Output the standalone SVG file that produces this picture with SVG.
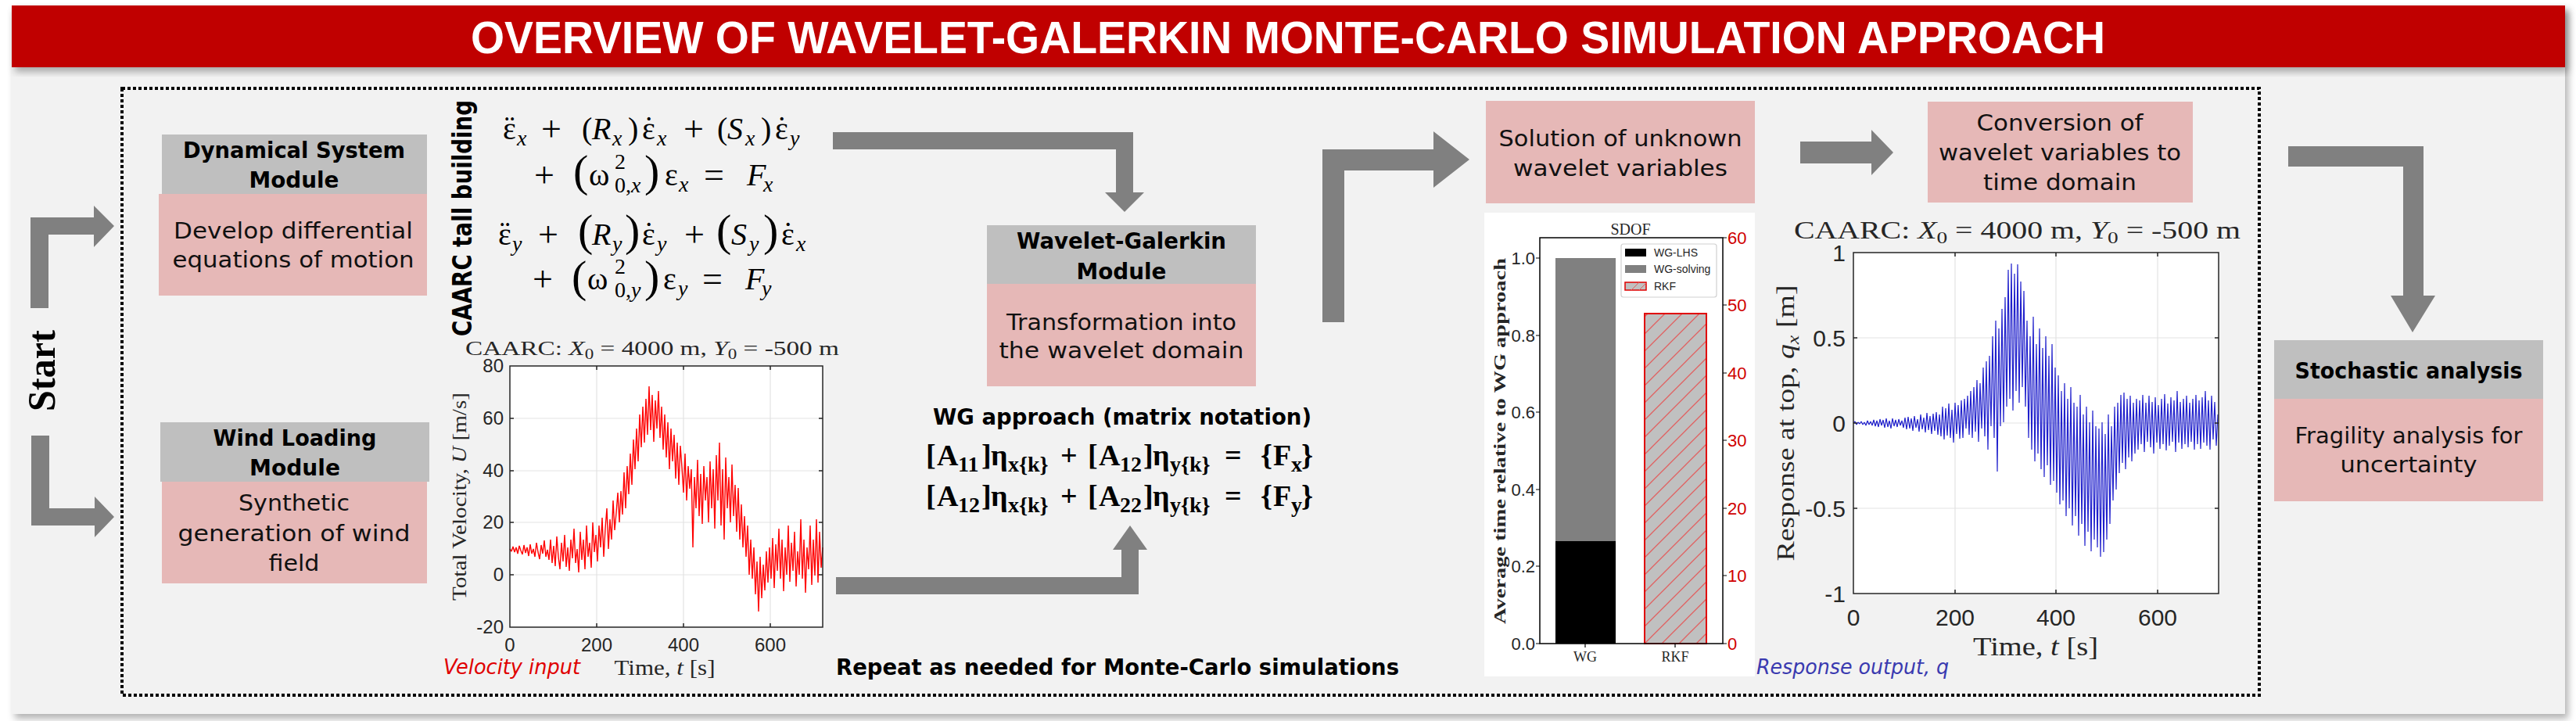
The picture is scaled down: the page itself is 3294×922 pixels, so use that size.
<svg xmlns="http://www.w3.org/2000/svg" width="3294" height="922" viewBox="0 0 3294 922">
<defs>
<filter id="sh" x="-5%" y="-5%" width="110%" height="120%"><feDropShadow dx="4" dy="6" stdDeviation="5" flood-color="#000" flood-opacity="0.3"/></filter>
<pattern id="hatch" patternUnits="userSpaceOnUse" width="22" height="22"><path d="M-6,6 L6,-6 M0,22 L22,0 M16,28 L28,16" stroke="#e06060" stroke-width="1.3"/></pattern>
<style>
.arrow{fill:#808080}
.hdr{fill:#bfbfbf}
.bdy{fill:#e6b8b7}
.ht{font-family:"DejaVu Sans","Liberation Sans",sans-serif;font-weight:bold;font-size:29px;text-anchor:middle;fill:#000}
.bt{font-family:"DejaVu Sans","Liberation Sans",sans-serif;font-size:28px;text-anchor:middle;fill:#111}
.eq{font-family:"Liberation Serif","DejaVu Serif",serif;font-size:40px;fill:#000}
.sb{font-size:28px}
.i{font-style:italic}
.big{font-size:58px}
.op{font-size:46px}
.mx{font-family:"Liberation Serif","DejaVu Serif",serif;font-weight:bold;font-size:38px;fill:#000}
.ms{font-size:28px}
.tk{font-family:"Liberation Sans",Arial,sans-serif;fill:#262626}
.ser{font-family:"Liberation Serif","DejaVu Serif",serif;fill:#262626}
.grid{stroke:#e3e3e3;stroke-width:1.2;fill:none}
.ax{stroke:#262626;stroke-width:1.5;fill:none}
</style>
</defs>

<rect x="0" y="0" width="3294" height="922" fill="#ffffff"/>
<g id="panel">
<rect x="15" y="7" width="3265" height="906" fill="#f2f2f2" filter="url(#sh)"/>
</g>
<g id="title">
<rect x="15" y="7" width="3265" height="79" fill="#c00000" filter="url(#sh)"/>
<text x="1647" y="68" font-family="'Liberation Sans',Arial,sans-serif" font-weight="bold" font-size="57" fill="#ffffff" text-anchor="middle" textLength="2090" lengthAdjust="spacingAndGlyphs">OVERVIEW OF WAVELET-GALERKIN MONTE-CARLO SIMULATION APPROACH</text>
</g>

<g id="loop-border">
<rect x="156" y="113" width="2733" height="776" fill="none" stroke="#000" stroke-width="4" stroke-dasharray="4 3"/>
<text x="1429" y="863" font-family="'DejaVu Sans','Liberation Sans',sans-serif" font-weight="bold" font-size="28" text-anchor="middle" textLength="720" lengthAdjust="spacingAndGlyphs">Repeat as needed for Monte-Carlo simulations</text>
</g>

<g id="start">
<text transform="translate(70,474) rotate(-90)" font-family="'Liberation Serif',serif" font-weight="bold" font-size="50" text-anchor="middle" textLength="104" lengthAdjust="spacingAndGlyphs">Start</text>
</g>

<g id="connectors">
<polygon class="arrow" points="39,394 39,278 120,278 120,263 146,289 120,316 120,300 62,300 62,394"/>
<polygon class="arrow" points="40,557 63,557 63,650 121,650 121,635 146,661 121,687 121,672 40,672"/>
<polygon class="arrow" points="1065,169 1449,169 1449,246 1463,246 1438,271 1413,246 1427,246 1427,191 1065,191"/>
<polygon class="arrow" points="1069,738 1434,738 1434,703 1423,703 1445,672 1467,703 1456,703 1456,760 1069,760"/>
<polygon class="arrow" points="1691,412 1691,191 1833,191 1833,168 1879,204 1833,240 1833,218 1719,218 1719,412"/>
<polygon class="arrow" points="2302,181 2393,181 2393,166 2421,195 2393,224 2393,209 2302,209"/>
<polygon class="arrow" points="2926,187 3099,187 3099,378 3114,378 3085,425 3057,378 3073,378 3073,213 2926,213"/>
</g>

<g id="dynamical-system">
<rect class="hdr" x="207" y="172" width="339" height="76"/>
<rect class="bdy" x="203" y="248" width="343" height="130"/>
<text class="ht" x="376" y="202" textLength="284" lengthAdjust="spacingAndGlyphs">Dynamical System</text>
<text class="ht" x="376" y="240" textLength="115" lengthAdjust="spacingAndGlyphs">Module</text>
<text class="bt" x="375" y="305" textLength="306" lengthAdjust="spacingAndGlyphs">Develop differential</text>
<text class="bt" x="375" y="342" textLength="309" lengthAdjust="spacingAndGlyphs">equations of motion</text>
</g>

<g id="wind-loading">
<rect class="hdr" x="205" y="540" width="344" height="76"/>
<rect class="bdy" x="207" y="616" width="339" height="130"/>
<text class="ht" x="377" y="570" textLength="209" lengthAdjust="spacingAndGlyphs">Wind Loading</text>
<text class="ht" x="377" y="608" textLength="116" lengthAdjust="spacingAndGlyphs">Module</text>
<text class="bt" x="376" y="653" textLength="142" lengthAdjust="spacingAndGlyphs">Synthetic</text>
<text class="bt" x="376" y="692" textLength="297" lengthAdjust="spacingAndGlyphs">generation of wind</text>
<text class="bt" x="376" y="730" textLength="65" lengthAdjust="spacingAndGlyphs">field</text>
</g>

<g id="equations">
<text transform="translate(603,279) rotate(-90)" font-family="'DejaVu Sans','Liberation Sans',sans-serif" font-weight="bold" font-size="33" text-anchor="middle" textLength="302" lengthAdjust="spacingAndGlyphs">CAARC tall building</text>
<text class="eq">
<tspan x="643" y="178">&#949;</tspan><tspan x="645" y="176">&#168;</tspan><tspan class="sb i" x="661" y="186">x</tspan>
<tspan class="op" x="692" y="180">+</tspan>
<tspan x="744" y="178">(</tspan><tspan class="i" x="757" y="178">R</tspan><tspan class="sb i" x="783" y="186">x</tspan><tspan x="803" y="178">)</tspan>
<tspan x="821" y="178">&#949;</tspan><tspan x="823" y="176">&#729;</tspan><tspan class="sb i" x="840" y="186">x</tspan>
<tspan class="op" x="874" y="180">+</tspan>
<tspan x="917" y="178">(</tspan><tspan class="i" x="930" y="178">S</tspan><tspan class="sb i" x="953" y="186">x</tspan><tspan x="973" y="178">)</tspan>
<tspan x="991" y="178">&#949;</tspan><tspan x="993" y="176">&#729;</tspan><tspan class="sb i" x="1010" y="186">y</tspan>
</text>
<text class="eq">
<tspan class="op" x="683" y="239">+</tspan>
<tspan class="big" x="733" y="238">(</tspan><tspan x="753" y="237">&#969;</tspan>
<tspan class="sb" x="786" y="216">2</tspan><tspan class="sb" x="786" y="246">0,<tspan class="i">x</tspan></tspan>
<tspan class="big" x="824" y="238">)</tspan>
<tspan x="850" y="237">&#949;</tspan><tspan class="sb i" x="868" y="245">x</tspan>
<tspan class="op" x="900" y="239">=</tspan>
<tspan class="i" x="955" y="237">F</tspan><tspan class="sb i" x="976" y="245">x</tspan>
</text>
<text class="eq">
<tspan x="637" y="313">&#949;</tspan><tspan x="639" y="311">&#168;</tspan><tspan class="sb i" x="655" y="321">y</tspan>
<tspan class="op" x="688" y="315">+</tspan>
<tspan class="big" x="739" y="314">(</tspan><tspan class="i" x="757" y="313">R</tspan><tspan class="sb i" x="783" y="321">y</tspan><tspan class="big" x="799" y="314">)</tspan>
<tspan x="821" y="313">&#949;</tspan><tspan x="823" y="311">&#729;</tspan><tspan class="sb i" x="840" y="321">y</tspan>
<tspan class="op" x="875" y="315">+</tspan>
<tspan class="big" x="916" y="314">(</tspan><tspan class="i" x="935" y="313">S</tspan><tspan class="sb i" x="958" y="321">y</tspan><tspan class="big" x="976" y="314">)</tspan>
<tspan x="999" y="313">&#949;</tspan><tspan x="1001" y="311">&#729;</tspan><tspan class="sb i" x="1018" y="321">x</tspan>
</text>
<text class="eq">
<tspan class="op" x="681" y="372">+</tspan>
<tspan class="big" x="731" y="373">(</tspan><tspan x="751" y="370">&#969;</tspan>
<tspan class="sb" x="786" y="350">2</tspan><tspan class="sb" x="786" y="380">0,<tspan class="i">y</tspan></tspan>
<tspan class="big" x="824" y="373">)</tspan>
<tspan x="848" y="370">&#949;</tspan><tspan class="sb i" x="867" y="378">y</tspan>
<tspan class="op" x="898" y="372">=</tspan>
<tspan class="i" x="953" y="370">F</tspan><tspan class="sb i" x="974" y="378">y</tspan>
</text>
</g>

<g id="wind-chart">
<text class="ser" x="595" y="454" font-size="26" textLength="478" lengthAdjust="spacingAndGlyphs">CAARC: <tspan class="i">X</tspan><tspan font-size="18" dy="5">0</tspan><tspan dy="-5"> = 4000 m, </tspan><tspan class="i">Y</tspan><tspan font-size="18" dy="5">0</tspan><tspan dy="-5"> = -500 m</tspan></text>
<rect x="652" y="468" width="400" height="334" fill="#ffffff"/>
<path class="grid" d="M763,468V802M874,468V802M985,468V802M652,535H1052M652,602H1052M652,668H1052M652,735H1052"/>
<polyline fill="none" stroke="#ff0000" stroke-width="1.4" stroke-linejoin="bevel" points="652,702 654,705 656,699 658,706 660,700 662,708 664,698 666,704 668,709 670,697 672,707 674,700 676,711 678,696 680,708 682,702 684,712 686,694 688,706 690,715 692,697 694,708 696,691 698,712 700,703 702,716 704,690 706,720 708,698 710,724 712,686 714,712 716,728 718,694 720,718 722,684 724,725 726,700 728,730 730,690 732,714 734,676 736,720 738,702 740,732 742,680 744,716 746,690 748,728 750,672 752,712 754,694 756,726 758,668 760,706 762,684 764,718 766,672 768,700 770,662 772,712 774,676 776,650 778,702 780,664 782,690 784,640 786,678 788,656 790,630 792,668 794,628 796,658 798,604 800,650 802,596 804,632 806,580 808,620 810,562 812,600 814,548 816,590 818,530 820,572 822,520 824,566 826,510 828,556 830,494 832,550 834,505 836,565 838,512 840,548 842,500 844,560 846,520 848,575 850,530 852,585 854,540 856,600 858,548 860,590 862,556 864,612 866,566 868,620 870,570 872,598 874,630 876,580 878,640 880,596 882,625 884,600 886,700 888,610 890,650 892,588 894,660 896,606 898,670 900,596 902,640 904,610 906,668 908,590 910,650 912,600 914,676 916,582 918,640 920,566 922,672 924,600 926,690 928,585 930,650 932,610 934,668 936,594 938,660 940,620 942,680 944,624 946,690 948,645 950,700 952,660 954,712 956,672 958,735 960,690 962,740 964,700 966,760 968,718 970,782 972,712 974,765 976,722 978,755 980,705 982,745 984,700 986,740 988,688 990,752 992,696 994,730 996,676 998,740 1000,690 1002,756 1004,700 1006,735 1008,672 1010,744 1012,694 1014,730 1016,680 1018,750 1020,705 1022,735 1024,664 1026,740 1028,690 1030,758 1032,700 1034,728 1036,672 1038,748 1040,690 1042,736 1044,664 1046,745 1048,680 1050,726 1052,700"/>
<rect class="ax" x="652" y="468" width="400" height="334"/>
<path class="ax" d="M652,535h5M652,602h5M652,668h5M652,735h5M1052,535h-5M1052,602h-5M1052,668h-5M1052,735h-5M763,802v-5M874,802v-5M985,802v-5M763,468v5M874,468v5M985,468v5"/>
<g class="tk" font-size="24" text-anchor="end">
<text x="644" y="476">80</text><text x="644" y="543">60</text><text x="644" y="610">40</text><text x="644" y="676">20</text><text x="644" y="743">0</text><text x="644" y="810">-20</text>
</g>
<g class="tk" font-size="24" text-anchor="middle">
<text x="652" y="833">0</text><text x="763" y="833">200</text><text x="874" y="833">400</text><text x="985" y="833">600</text>
</g>
<text class="ser" transform="translate(596,635) rotate(-90)" font-size="26" text-anchor="middle" textLength="266" lengthAdjust="spacingAndGlyphs">Total Velocity, <tspan class="i">U</tspan> [m/s]</text>
<text class="ser" x="850" y="863" font-size="27" text-anchor="middle" textLength="129" lengthAdjust="spacingAndGlyphs">Time, <tspan class="i">t</tspan> [s]</text>
<text x="567" y="862" font-family="'DejaVu Sans','Liberation Sans',sans-serif" font-style="italic" font-size="26" fill="#e00000" textLength="175" lengthAdjust="spacingAndGlyphs">Velocity input</text>
</g>

<g id="wavelet-galerkin">
<rect class="hdr" x="1262" y="288" width="344" height="75"/>
<rect class="bdy" x="1262" y="363" width="344" height="131"/>
<text class="ht" x="1434" y="318" textLength="268" lengthAdjust="spacingAndGlyphs">Wavelet-Galerkin</text>
<text class="ht" x="1434" y="357" textLength="115" lengthAdjust="spacingAndGlyphs">Module</text>
<text class="bt" x="1434" y="422" textLength="294" lengthAdjust="spacingAndGlyphs">Transformation into</text>
<text class="bt" x="1434" y="458" textLength="313" lengthAdjust="spacingAndGlyphs">the wavelet domain</text>
</g>

<g id="matrix-equations">
<text x="1435" y="543" font-family="'DejaVu Sans','Liberation Sans',sans-serif" font-weight="bold" font-size="28" text-anchor="middle" textLength="484" lengthAdjust="spacingAndGlyphs">WG approach (matrix notation)</text>
<text class="mx">
<tspan x="1184" y="595">[</tspan><tspan x="1198" y="595">A</tspan><tspan class="ms" x="1225" y="603">11</tspan><tspan x="1255" y="595">]</tspan><tspan x="1267" y="595">&#951;</tspan><tspan class="ms" x="1289" y="603">x{k}</tspan>
<tspan x="1356" y="595">+</tspan>
<tspan x="1391" y="595">[</tspan><tspan x="1405" y="595">A</tspan><tspan class="ms" x="1432" y="603">12</tspan><tspan x="1462" y="595">]</tspan><tspan x="1474" y="595">&#951;</tspan><tspan class="ms" x="1496" y="603">y{k}</tspan>
<tspan x="1566" y="595">=</tspan>
<tspan x="1612" y="595">{</tspan><tspan x="1628" y="595">F</tspan><tspan class="ms" x="1651" y="603">x</tspan><tspan x="1664" y="595">}</tspan>
</text>
<text class="mx">
<tspan x="1184" y="647">[</tspan><tspan x="1198" y="647">A</tspan><tspan class="ms" x="1225" y="655">12</tspan><tspan x="1255" y="647">]</tspan><tspan x="1267" y="647">&#951;</tspan><tspan class="ms" x="1289" y="655">x{k}</tspan>
<tspan x="1356" y="647">+</tspan>
<tspan x="1391" y="647">[</tspan><tspan x="1405" y="647">A</tspan><tspan class="ms" x="1432" y="655">22</tspan><tspan x="1462" y="647">]</tspan><tspan x="1474" y="647">&#951;</tspan><tspan class="ms" x="1496" y="655">y{k}</tspan>
<tspan x="1566" y="647">=</tspan>
<tspan x="1612" y="647">{</tspan><tspan x="1628" y="647">F</tspan><tspan class="ms" x="1651" y="655">y</tspan><tspan x="1664" y="647">}</tspan>
</text>
</g>

<g id="solution">
<rect class="bdy" x="1900" y="129" width="344" height="131"/>
<text class="bt" x="2072" y="187" textLength="311" lengthAdjust="spacingAndGlyphs">Solution of unknown</text>
<text class="bt" x="2072" y="225" textLength="274" lengthAdjust="spacingAndGlyphs">wavelet variables</text>
</g>

<g id="bar-chart">
<rect x="1898" y="272" width="346" height="593" fill="#ffffff"/>
<text class="ser" x="2085" y="300" font-size="20" text-anchor="middle">SDOF</text>
<rect x="1989" y="330" width="77" height="362" fill="#808080"/>
<rect x="1989" y="692" width="77" height="131" fill="#000000"/>
<rect x="2103" y="401" width="79" height="422" fill="#c0c0c0"/>
<rect x="2103" y="401" width="79" height="422" fill="url(#hatch)" stroke="#e00000" stroke-width="2"/>
<rect x="1969" y="304" width="234" height="519" fill="none" stroke="#000" stroke-width="1.5"/>
<path stroke="#000" stroke-width="1.2" d="M1964,330h5M1964,429h5M1964,527h5M1964,626h5M1964,724h5M1964,823h5M2203,304h5M2203,390h5M2203,477h5M2203,563h5M2203,650h5M2203,736h5M2203,823h5M2027,823v5M2142,823v5"/>
<g class="tk" font-size="22" text-anchor="end" fill="#222">
<text x="1963" y="338">1.0</text><text x="1963" y="437">0.8</text><text x="1963" y="535">0.6</text><text x="1963" y="634">0.4</text><text x="1963" y="732">0.2</text><text x="1963" y="831">0.0</text>
</g>
<g font-family="'Liberation Sans',Arial,sans-serif" font-size="22" fill="#d00000">
<text x="2209" y="312">60</text><text x="2209" y="398">50</text><text x="2209" y="485">40</text><text x="2209" y="571">30</text><text x="2209" y="658">20</text><text x="2209" y="744">10</text><text x="2209" y="831">0</text>
</g>
<rect x="2073" y="312" width="122" height="68" rx="3" fill="#ffffff" stroke="#d0d0d0" stroke-width="1.2"/>
<rect x="2078" y="318" width="27" height="10" fill="#000"/>
<rect x="2078" y="339" width="27" height="10" fill="#808080"/>
<rect x="2078" y="361" width="27" height="10" fill="#c0c0c0" stroke="#e00000" stroke-width="1.5"/>
<path d="M2086,371l10,-10M2096,371l9,-9" stroke="#e06060" stroke-width="1"/>
<g class="tk" font-size="14" fill="#000">
<text x="2115" y="328">WG-LHS</text><text x="2115" y="349">WG-solving</text><text x="2115" y="371">RKF</text>
</g>
<text class="ser" x="2027" y="846" font-size="18" text-anchor="middle" fill="#000">WG</text>
<text class="ser" x="2142" y="846" font-size="18" text-anchor="middle" fill="#000">RKF</text>
<text class="ser" transform="translate(1925,564) rotate(-90)" font-size="22" font-weight="bold" text-anchor="middle" fill="#000" textLength="468" lengthAdjust="spacingAndGlyphs">Average time relative to WG approach</text>
</g>

<g id="conversion">
<rect class="bdy" x="2465" y="130" width="339" height="129"/>
<text class="bt" x="2634" y="167" textLength="213" lengthAdjust="spacingAndGlyphs">Conversion of</text>
<text class="bt" x="2634" y="205" textLength="310" lengthAdjust="spacingAndGlyphs">wavelet variables to</text>
<text class="bt" x="2634" y="243" textLength="196" lengthAdjust="spacingAndGlyphs">time domain</text>
</g>

<g id="response-chart">
<text class="ser" x="2294" y="305" font-size="32" textLength="571" lengthAdjust="spacingAndGlyphs">CAARC: <tspan class="i">X</tspan><tspan font-size="22" dy="6">0</tspan><tspan dy="-6"> = 4000 m, </tspan><tspan class="i">Y</tspan><tspan font-size="22" dy="6">0</tspan><tspan dy="-6"> = -500 m</tspan></text>
<rect x="2370" y="323" width="467" height="436" fill="#ffffff"/>
<path class="grid" d="M2500,323V759M2629,323V759M2759,323V759M2370,432H2837M2370,541H2837M2370,650H2837"/>
<polyline fill="none" stroke="#1f1fcc" stroke-width="1.2" stroke-linejoin="bevel" points="2370,541 2372,539 2374,543 2376,540 2378,542 2380,539 2382,543 2384,540 2386,544 2388,538 2390,543 2392,539 2394,544 2396,537 2398,545 2400,538 2402,546 2404,536 2406,544 2408,537 2410,547 2412,535 2414,546 2416,538 2418,548 2420,535 2422,545 2424,537 2426,546 2428,536 2430,544 2432,538 2434,547 2436,534 2438,549 2440,533 2442,548 2444,535 2446,551 2448,532 2450,547 2452,536 2454,552 2456,530 2458,549 2460,534 2462,553 2464,528 2466,550 2468,532 2470,555 2472,529 2474,551 2476,527 2478,556 2480,530 2482,558 2484,520 2486,562 2488,522 2490,557 2492,516 2494,560 2496,524 2498,566 2500,515 2502,555 2504,518 2506,561 2508,512 2510,560 2512,510 2514,548 2516,506 2518,556 2520,500 2522,560 2524,495 2526,552 2528,486 2530,565 2532,490 2534,548 2536,470 2538,558 2540,462 2542,575 2544,455 2546,545 2548,430 2550,560 2552,410 2554,603 2556,420 2558,545 2560,395 2562,540 2564,380 2566,520 2568,345 2570,510 2572,337 2574,525 2576,350 2578,500 2580,338 2582,515 2584,360 2586,495 2588,372 2590,520 2592,410 2594,560 2596,430 2598,575 2600,405 2602,590 2604,440 2606,580 2608,420 2610,600 2612,445 2614,610 2616,430 2618,595 2620,455 2622,620 2624,440 2626,615 2628,470 2630,630 2632,480 2634,645 2636,500 2638,640 2640,490 2642,660 2644,510 2646,650 2648,495 2650,672 2652,515 2654,660 2656,520 2658,685 2660,505 2662,670 2664,530 2666,698 2668,520 2670,680 2672,540 2674,705 2676,525 2678,690 2680,545 2682,700 2684,548 2686,712 2688,540 2690,706 2692,555 2694,690 2696,530 2698,670 2700,545 2702,640 2704,520 2706,626 2708,515 2710,605 2712,505 2714,592 2716,502 2718,600 2720,510 2722,585 2724,506 2726,590 2728,515 2730,580 2732,510 2734,575 2736,512 2738,568 2740,505 2742,578 2744,515 2746,565 2748,506 2750,572 2752,514 2754,580 2756,508 2758,566 2760,518 2762,574 2764,510 2766,568 2768,504 2770,576 2772,516 2774,570 2776,508 2778,565 2780,512 2782,578 2784,500 2786,566 2788,514 2790,574 2792,510 2794,568 2796,506 2798,572 2800,515 2802,565 2804,510 2806,575 2808,505 2810,568 2812,512 2814,574 2816,508 2818,566 2820,500 2822,570 2824,512 2826,575 2828,506 2830,562 2832,514 2834,570 2836,530"/>
<rect class="ax" x="2370" y="323" width="467" height="436"/>
<path class="ax" d="M2370,432h5M2370,541h5M2370,650h5M2837,432h-5M2837,541h-5M2837,650h-5M2500,759v-5M2629,759v-5M2759,759v-5M2500,323v5M2629,323v5M2759,323v5"/>
<g class="tk" font-size="30" text-anchor="end">
<text x="2360" y="334">1</text><text x="2360" y="443">0.5</text><text x="2360" y="552">0</text><text x="2360" y="661">-0.5</text><text x="2360" y="770">-1</text>
</g>
<g class="tk" font-size="30" text-anchor="middle">
<text x="2370" y="800">0</text><text x="2500" y="800">200</text><text x="2629" y="800">400</text><text x="2759" y="800">600</text>
</g>
<text class="ser" transform="translate(2294,541) rotate(-90)" font-size="32" text-anchor="middle" textLength="353" lengthAdjust="spacingAndGlyphs">Response at top, <tspan class="i">q</tspan><tspan class="i" font-size="22" dy="6">x</tspan><tspan dy="-6"> [m]</tspan></text>
<text class="ser" x="2603" y="838" font-size="33" text-anchor="middle" textLength="160" lengthAdjust="spacingAndGlyphs">Time, <tspan class="i">t</tspan> [s]</text>
<text x="2246" y="862" font-family="'DejaVu Sans','Liberation Sans',sans-serif" font-style="italic" font-size="26" fill="#3a3ab0" textLength="246" lengthAdjust="spacingAndGlyphs">Response output, q</text>
</g>

<g id="stochastic">
<rect class="hdr" x="2908" y="435" width="344" height="75"/>
<rect class="bdy" x="2908" y="510" width="344" height="131"/>
<text class="ht" x="3080" y="484" textLength="291" lengthAdjust="spacingAndGlyphs">Stochastic analysis</text>
<text class="bt" x="3080" y="567" textLength="291" lengthAdjust="spacingAndGlyphs">Fragility analysis for</text>
<text class="bt" x="3080" y="604" textLength="175" lengthAdjust="spacingAndGlyphs">uncertainty</text>
</g>
</svg>
